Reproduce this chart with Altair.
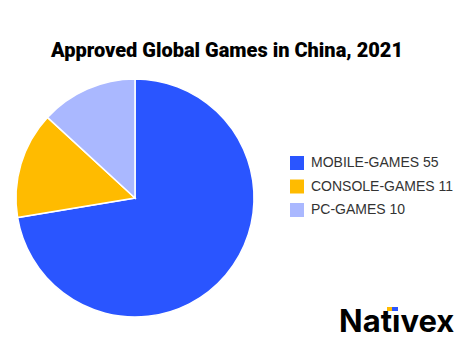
import altair as alt
import pandas as pd

categories = ["MOBILE-GAMES", "CONSOLE-GAMES", "PC-GAMES"]
values = [55, 11, 10]
colors = ["#2a55ff", "#ffbb00", "#aab8ff"]
title_text = "Approved Global Games in China, 2021"
brand = "Natıvex"

labels = [f"{c} {v}" for c, v in zip(categories, values)]
df = pd.DataFrame({"label": labels, "value": values, "order": list(range(len(values)))})

pie = alt.Chart(df).mark_arc(outerRadius=119, stroke="white", strokeWidth=1.5).encode(
    theta=alt.Theta("value:Q", stack=True),
    order=alt.Order("order:Q"),
    color=alt.Color(
        "label:N",
        scale=alt.Scale(domain=labels, range=colors),
        sort=labels,
        legend=alt.Legend(
            title=None, orient="none", legendX=282, legendY=148,
            symbolType="square", symbolSize=196, symbolStrokeWidth=0,
            labelFont="Liberation Sans", labelFontSize=14, labelColor="#333333",
            rowPadding=9.5, labelOffset=7,
        ),
    ),
    x=alt.value(127),
    y=alt.value(190),
)

title = alt.Chart(pd.DataFrame({"t": [title_text]})).mark_text(
    font="Roboto", fontWeight=900, fontSize=20, color="#000000",
    align="center", baseline="alphabetic",
).encode(text="t:N", x=alt.value(219), y=alt.value(49))

logo = alt.Chart(pd.DataFrame({"t": [brand]})).mark_text(
    font="Inter", fontWeight="bold", fontSize=31, color="#000000",
    align="left", baseline="alphabetic",
).encode(text="t:N", x=alt.value(331), y=alt.value(324))

dot_y = alt.Chart(pd.DataFrame({"a": [0]})).mark_rect(color="#ffbb00").encode(
    x=alt.value(379), x2=alt.value(384), y=alt.value(299), y2=alt.value(303))
dot_b = alt.Chart(pd.DataFrame({"a": [0]})).mark_rect(color="#2a55ff").encode(
    x=alt.value(384), x2=alt.value(390), y=alt.value(299), y2=alt.value(303))

chart = alt.layer(pie, title, logo, dot_y, dot_b).properties(
    width=459, height=340, autosize="none", padding=0
).configure_view(stroke=None)

chart.save("out.html", embed_options={"renderer": "svg", "actions": False})
